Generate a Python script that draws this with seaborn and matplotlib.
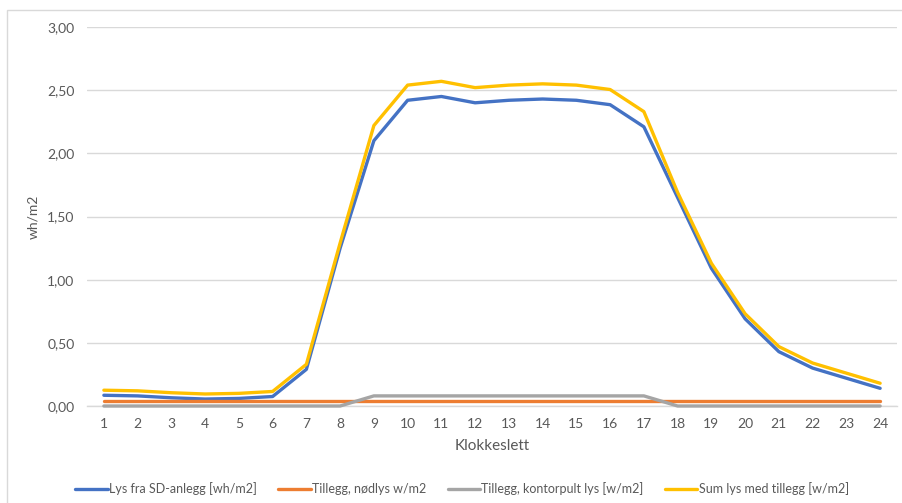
import numpy as np
import pandas as pd
import matplotlib
matplotlib.use('Agg')
import matplotlib.pyplot as plt
from matplotlib.ticker import FuncFormatter
from matplotlib.patches import Rectangle
import seaborn as sns

# data
hours = list(range(1, 25))
lys_sd = [0.085, 0.08, 0.065, 0.055, 0.06, 0.075, 0.29, 1.25, 2.10, 2.42, 2.45, 2.40,
          2.42, 2.43, 2.42, 2.385, 2.21, 1.65, 1.09, 0.69, 0.43, 0.30, 0.22, 0.14]
nodlys = [0.04] * 24
kontorpult = [0, 0, 0, 0, 0, 0, 0, 0, 0.08, 0.08, 0.08, 0.08,
              0.08, 0.08, 0.08, 0.08, 0.08, 0, 0, 0, 0, 0, 0, 0]
sum_lys = [0.125, 0.12, 0.105, 0.095, 0.10, 0.115, 0.33, 1.29, 2.22, 2.54, 2.57, 2.52,
           2.54, 2.55, 2.54, 2.505, 2.33, 1.69, 1.13, 0.73, 0.47, 0.34, 0.26, 0.18]

names = ['Lys fra SD-anlegg [wh/m2]', 'Tillegg, nødlys w/m2',
         'Tillegg, kontorpult lys [w/m2]', 'Sum lys med tillegg [w/m2]']
colors = ['#4472C4', '#ED7D31', '#A5A5A5', '#FFC000']

df = pd.concat([
    pd.DataFrame({'Klokkeslett': hours, 'verdi': v, 'serie': n})
    for v, n in zip([lys_sd, nodlys, kontorpult, sum_lys], names)
])

sns.set_style('white')
plt.rcParams['font.family'] = ['Lato', 'DejaVu Sans']

fig = plt.figure(figsize=(9.03, 5.03), dpi=100)
ax = fig.add_axes([87 / 903, 1 - 406 / 503, 810 / 903, 379 / 503])

sns.lineplot(data=df, x='Klokkeslett', y='verdi', hue='serie', hue_order=names,
             palette=colors, linewidth=2.4, ax=ax, clip_on=False, zorder=3)

ax.set_xlim(0.5, 24.5)
ax.set_ylim(0, 3)
ax.set_xticks(hours)
ax.set_yticks(np.arange(0, 3.01, 0.5))
ax.yaxis.set_major_formatter(FuncFormatter(lambda v, p: f'{v:.2f}'.replace('.', ',')))
ax.tick_params(axis='both', length=0, labelsize=10, labelcolor='#595959')
ax.tick_params(axis='x', pad=9)
ax.tick_params(axis='y', pad=9)
ax.grid(axis='y', color='#D9D9D9', linewidth=1)
ax.grid(axis='x', visible=False)
for s in ['top', 'left', 'right']:
    ax.spines[s].set_visible(False)
ax.spines['bottom'].set_color('#D9D9D9')
ax.spines['bottom'].set_linewidth(1)

ax.set_xlabel('Klokkeslett', fontsize=11, color='#595959', labelpad=6)
ax.set_ylabel('wh/m2', fontsize=10, color='#595959', labelpad=6)

ax.legend(loc='lower center', bbox_to_anchor=(0.463, -0.265), ncol=4, frameon=False,
          fontsize=9, handlelength=2.6, handletextpad=0.1, columnspacing=1.7,
          labelcolor='#595959')

fig.patches.append(Rectangle((7 / 903, -0.1), 1.2, 1 - 10 / 503 + 0.1,
                             transform=fig.transFigure, fill=False,
                             edgecolor='#D9D9D9', linewidth=1))

fig.savefig('out.png', dpi=100)
